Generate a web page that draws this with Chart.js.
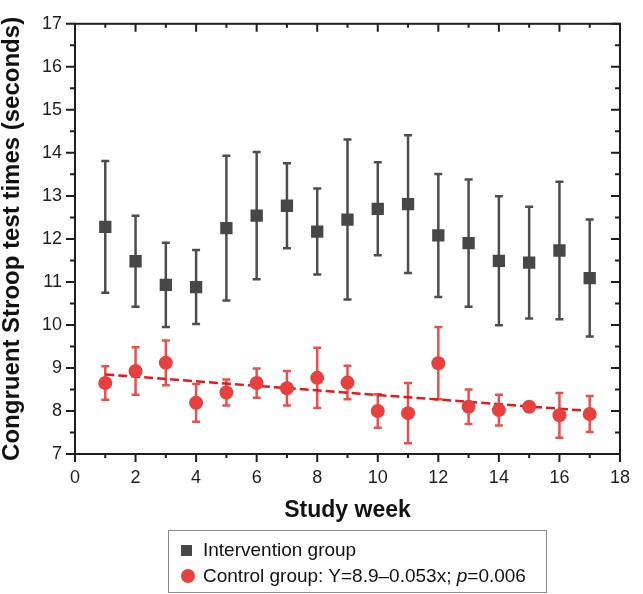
<!DOCTYPE html>
<html>
<head>
<meta charset="utf-8">
<script src="https://cdn.jsdelivr.net/npm/chart.js@4.4.1/dist/chart.umd.min.js"></script>
<style>
  html, body { margin: 0; padding: 0; background: #fff; }
  #wrap { position: relative; width: 643px; height: 594px; }
  #legend {
    position: absolute; left: 168px; top: 530px; width: 379px; height: 63px;
    box-sizing: border-box; border: 1px solid #8c8c8c; padding-top: 6px;
    font: 19px "Liberation Sans", Arial, sans-serif; color: #111;
  }
  .row { position: relative; height: 26px; line-height: 26px; padding-left: 34px; white-space: nowrap; }
  .mk { position: absolute; left: 12px; }
  .sq { top: 7.5px; width: 11px; height: 11px; background: #474747; }
  .ci { top: 6px; width: 14px; height: 14px; border-radius: 50%; background: #e8403f; }
</style>
</head>
<body>
<div id="wrap">
  <canvas id="chart" width="643" height="594"></canvas>
  <div id="legend">
    <div class="row"><span class="mk sq"></span>Intervention group</div>
    <div class="row"><span class="mk ci"></span>Control group: Y=8.9–0.053x; <i>p</i>=0.006</div>
  </div>
</div>
<script>
'use strict';

// ── Data ──────────────────────────────────────────────────────
const weeks = [1, 2, 3, 4, 5, 6, 7, 8, 9, 10, 11, 12, 13, 14, 15, 16, 17];

const interventionMean = [12.28, 11.48, 10.93, 10.88, 12.25, 12.54, 12.77, 12.17, 12.45,
                          12.70, 12.81, 12.08, 11.90, 11.49, 11.45, 11.73, 11.09];
const interventionSD   = [1.53, 1.06, 0.98, 0.86, 1.68, 1.48, 0.99, 1.00, 1.86,
                          1.08, 1.60, 1.43, 1.48, 1.50, 1.30, 1.60, 1.36];

const controlMean = [8.65, 8.93, 9.12, 8.19, 8.43, 8.65, 8.53, 8.77, 8.66,
                     8.00, 7.95, 9.11, 8.10, 8.02, 8.10, 7.90, 7.93];
const controlSD   = [0.39, 0.55, 0.52, 0.44, 0.30, 0.34, 0.40, 0.70, 0.39,
                     0.39, 0.70, 0.84, 0.40, 0.36, 0.10, 0.52, 0.42];

// fitted line for control group, end points
const trendX = [1, 17];
const trendY = [8.85, 8.00];

const xTicks = [0, 2, 4, 6, 8, 10, 12, 14, 16, 18];
const yTicks = [7, 8, 9, 10, 11, 12, 13, 14, 15, 16, 17];

// ── Helpers ───────────────────────────────────────────────────
const toPoints = (xs, ys) => xs.map((v, i) => ({ x: v, y: ys[i] }));
const FONT = '"Liberation Sans", Arial, sans-serif';
const INK = '#1e1e1e';

// ── Plugins ───────────────────────────────────────────────────
const errorBars = {
  id: 'errorBars',
  beforeDatasetsDraw(chart) {
    const { ctx, scales: { x, y } } = chart;
    chart.data.datasets.forEach((ds, i) => {
      if (!ds.errors || !chart.isDatasetVisible(i)) return;
      ctx.save();
      ctx.strokeStyle = ds.errorColor;
      ctx.lineWidth = 2.5;
      ds.data.forEach((pt, j) => {
        const px = x.getPixelForValue(pt.x);
        const top = y.getPixelForValue(pt.y + ds.errors[j]);
        const bot = y.getPixelForValue(pt.y - ds.errors[j]);
        ctx.beginPath();
        ctx.moveTo(px, top); ctx.lineTo(px, bot);
        ctx.moveTo(px - 4, top); ctx.lineTo(px + 4, top);
        ctx.moveTo(px - 4, bot); ctx.lineTo(px + 4, bot);
        ctx.stroke();
      });
      ctx.restore();
    });
  }
};

// box around the plot with major/minor ticks (out on left/bottom, in on top/right)
const frame = {
  id: 'frame',
  afterDraw(chart) {
    const { ctx, chartArea: a, scales: { x, y } } = chart;
    ctx.save();
    ctx.strokeStyle = INK;
    ctx.lineWidth = 2;
    ctx.strokeRect(a.left, a.top, a.right - a.left, a.bottom - a.top);
    ctx.beginPath();
    for (let v = x.min; v <= x.max; v += 1) {
      const px = x.getPixelForValue(v);
      const len = v % 2 === 0 ? 8 : 4;
      ctx.moveTo(px, a.bottom); ctx.lineTo(px, a.bottom + len);
      ctx.moveTo(px, a.top);    ctx.lineTo(px, a.top + len);
    }
    for (let v = y.min; v <= y.max; v += 0.5) {
      const py = y.getPixelForValue(v);
      const len = Number.isInteger(v) ? 9 : 5;
      ctx.moveTo(a.left, py);  ctx.lineTo(a.left - len, py);
      ctx.moveTo(a.right, py); ctx.lineTo(a.right - len, py);
    }
    ctx.stroke();
    ctx.restore();
  }
};

// ── Chart ─────────────────────────────────────────────────────
new Chart(document.getElementById('chart'), {
  type: 'scatter',
  data: {
    datasets: [
      {
        label: 'Control trend',
        type: 'line',
        data: toPoints(trendX, trendY),
        borderColor: '#e3191e',
        borderWidth: 2.5,
        borderDash: [9, 4],
        pointRadius: 0,
        fill: false,
        order: 3
      },
      {
        label: 'Intervention group',
        data: toPoints(weeks, interventionMean),
        errors: interventionSD,
        errorColor: '#4d4d4d',
        pointStyle: 'rect',
        pointRadius: 8.7,
        pointHoverRadius: 8.7,
        backgroundColor: '#474747',
        borderWidth: 0,
        order: 2
      },
      {
        label: 'Control group',
        data: toPoints(weeks, controlMean),
        errors: controlSD,
        errorColor: '#e8504f',
        pointStyle: 'circle',
        pointRadius: 7,
        pointHoverRadius: 7,
        backgroundColor: '#e8403f',
        borderWidth: 0,
        order: 1
      }
    ]
  },
  options: {
    responsive: false,
    animation: false,
    devicePixelRatio: 1,
    layout: { padding: { top: 7, right: 10, left: 0, bottom: 0 } },
    plugins: { legend: { display: false }, tooltip: { enabled: false } },
    scales: {
      x: {
        type: 'linear', min: 0, max: 18,
        afterFit: (s) => { s.height = 140; },
        afterBuildTicks: (s) => { s.ticks = xTicks.map(v => ({ value: v })); },
        grid: { display: false, drawTicks: false },
        border: { display: false },
        ticks: { color: INK, padding: 13, font: { family: FONT, size: 18 } },
        title: {
          display: true, text: 'Study week', color: '#111',
          font: { family: FONT, size: 23, weight: 'bold', lineHeight: 1 },
          padding: { top: 0, bottom: 72 }
        }
      },
      y: {
        type: 'linear', min: 7, max: 17,
        afterFit: (s) => { s.width = 75; },
        afterBuildTicks: (s) => { s.ticks = yTicks.map(v => ({ value: v })); },
        grid: { display: false, drawTicks: false },
        border: { display: false },
        ticks: { color: INK, padding: 13, font: { family: FONT, size: 18 } },
        title: {
          display: true, text: 'Congruent Stroop test times (seconds)', color: '#111',
          font: { family: FONT, size: 24, weight: 'bold', lineHeight: 1 },
          padding: { top: 0, bottom: 0 }
        }
      }
    }
  },
  plugins: [errorBars, frame]
});
</script>
</body>
</html>
